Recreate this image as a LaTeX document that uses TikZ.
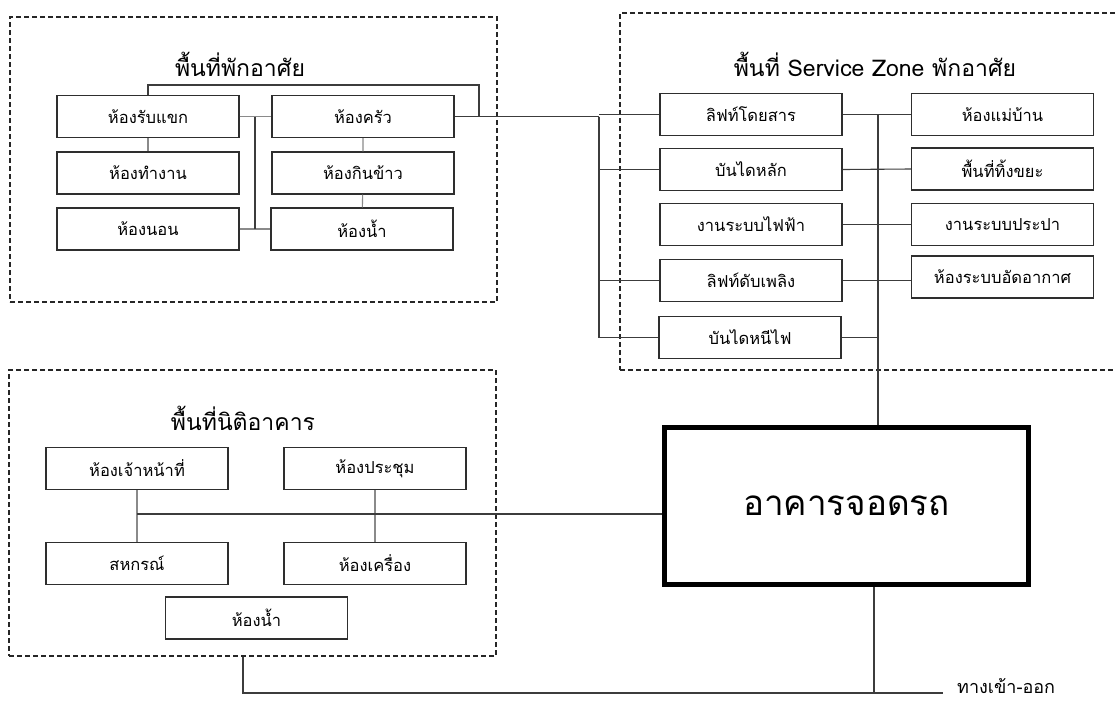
\documentclass[tikz,border=0pt]{standalone}
\usepackage{fontspec}
\newfontfamily\thaifont[Script=Thai]{Loma}
\usetikzlibrary{positioning}
\definecolor{linegray}{HTML}{3C3C3C}
\definecolor{lightline}{HTML}{8A8A8A}
\definecolor{framegray}{HTML}{2E2E2E}

\begin{document}
\begin{tikzpicture}[x=1pt, y=-1pt,
  room/.style={draw=framegray, line width=1.1pt, minimum width=182pt, minimum height=42pt,
    inner sep=0pt, font=\thaifont\fontsize{16.5}{18}\selectfont},
  zone/.style={draw=black!85, line width=1.1pt, dash pattern=on 5pt off 3pt,
    inner sep=0pt},
  ztitle/.style={font=\thaifont\fontsize{23}{26}\selectfont},
  link/.style={draw=linegray, line width=1.1pt},
  soft/.style={draw=lightline, line width=1.1pt}
]
  \useasboundingbox (0,0) rectangle (1115,702);

  % Zones
  \node[zone, minimum width=487pt, minimum height=285pt] (zoneA) at (253.5,159.5) {};
  \node[zone, minimum width=505pt, minimum height=357pt] (zoneB) at (872.5,191.5) {};
  \node[zone, minimum width=487pt, minimum height=286pt] (zoneC) at (252.5,513) {};
  \node[ztitle] (tA) at (240,64) {พื้นที่พักอาศัย};
  \node[ztitle] (tB) at (875,64) {พื้นที่ Service Zone พักอาศัย};
  \node[ztitle] (tC) at (243,418) {พื้นที่นิติอาคาร};

  % Residential rooms
  \node[room] (rub) at (148,116.5) {ห้องรับแขก};
  \node[room] (tam) at (148,173) {ห้องทำงาน};
  \node[room] (non) at (148,229) {ห้องนอน};
  \node[room] (krua) at (363,116.5) {ห้องครัว};
  \node[room] (kin) at (363,173) {ห้องกินข้าว};
  \node[room] (nam) at (362,229) {ห้องน้ำ};

  \coordinate (busA) at (255,0);
  \coordinate (jA) at (479,0);
  \coordinate (busL) at (599,0);
  \coordinate (busR) at (878,0);

  \draw[soft] (rub) -- (tam);
  \draw[soft] (krua) -- (kin) -- (nam);
  \draw[soft] (rub.east) -- (krua.west);
  \draw[soft] (non.east) -- (nam.west);
  \draw[link] (rub.east -| busA) -- (non.east -| busA);
  \draw[link] (rub.north) -- ++(0,-10) -| (krua.east -| jA);
  \draw[link] (krua.east) -- (krua.east -| busL);

  % Service zone
  \node[room] (lift) at (751,114.5) {ลิฟท์โดยสาร};
  \node[room] (stair) at (751,169.5) {บันไดหลัก};
  \node[room] (elec) at (751,224.5) {งานระบบไฟฟ้า};
  \node[room] (firelift) at (751,280.5) {ลิฟท์ดับเพลิง};
  \node[room] (escape) at (750,337.5) {บันไดหนีไฟ};
  \node[room] (maid) at (1002.5,114.5) {ห้องแม่บ้าน};
  \node[room] (trash) at (1002.5,169) {พื้นที่ทิ้งขยะ};
  \node[room] (water) at (1002.5,224.5) {งานระบบประปา};
  \node[room] (air) at (1002.5,277) {ห้องระบบอัดอากาศ};

  \draw[link] (krua.east -| busL) -- (escape.west -| busL) -- (escape.west);
  \draw[link] (lift.west -| busL) -- (lift.west);
  \draw[link] (stair.west -| busL) -- (stair.west);
  \draw[link] (firelift.west -| busL) -- (firelift.west);
  \draw[link] (lift.east) -- (maid.west);
  \draw[link] (stair.east) -- (trash.west);
  \draw[link] (elec.east) -- (water.west);
  \draw[link] (firelift.east) -- (firelift.east -| air.west);
  \draw[link] (escape.east) -- (escape.east -| busR);

  % Parking
  \node[draw=black, line width=4.5pt, minimum width=364pt, minimum height=157pt,
    font=\thaifont\fontsize{35}{40}\selectfont] (park) at (846.5,506) {อาคารจอดรถ};
  \draw[link] (lift.east -| busR) -- (park.north -| busR);

  % Juristic zone
  \node[room] (staff) at (137,468.5) {ห้องเจ้าหน้าที่};
  \node[room] (meet) at (375,468.5) {ห้องประชุม};
  \node[room] (coop) at (137,563.5) {สหกรณ์};
  \node[room] (mech) at (375,563.5) {ห้องเครื่อง};
  \node[room] (toilet) at (256.5,618) {ห้องน้ำ};

  \coordinate (cBus) at (137,514);
  \draw[soft] (staff) -- (coop);
  \draw[soft] (meet) -- (mech);
  \draw[link] (cBus) -- (cBus -| park.west);

  % Entrance
  \coordinate (cDrop) at (243,693);
  \coordinate (pDrop) at (874,693);
  \coordinate (entry) at (943,693);
  \draw[link] (cDrop |- zoneC.south) -- (cDrop) -- (entry);
  \draw[link] (park.south -| pDrop) -- (pDrop);
  \node[anchor=west, inner sep=0pt, font=\thaifont\fontsize{18}{20}\selectfont]
    (exitlbl) at ([xshift=14pt, yshift=7pt]entry) {ทางเข้า-ออก};
\end{tikzpicture}
\end{document}
